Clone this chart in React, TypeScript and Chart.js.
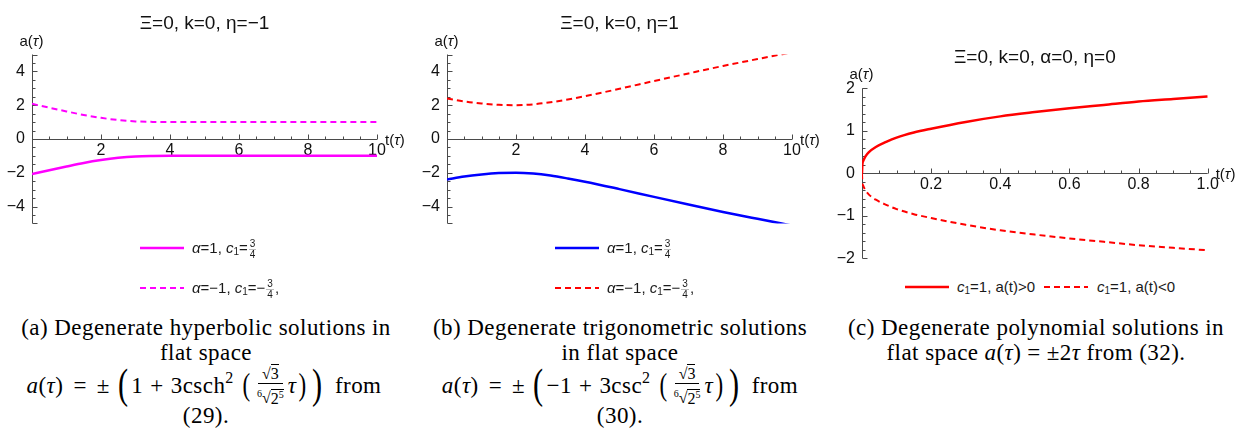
import React, { useEffect, useRef } from 'react';
import { Chart, registerables } from 'chart.js';

Chart.register(...registerables);

// ---------------- data ----------------
// (a) hyperbolic, η = -1
const tHyp = [0, 0.5, 1, 1.5, 2, 2.5, 3, 3.5, 4, 5, 6, 7, 8, 9, 10];
const hypSolid = [-2.08, -1.85, -1.63, -1.42, -1.25, -1.12, -1.04, -1.01, -1.0, -1.0, -1.0, -1.0, -1.0, -1.0, -1.0];
const hypDashed = [2.08, 1.85, 1.63, 1.42, 1.25, 1.12, 1.04, 1.01, 1.0, 1.0, 1.0, 1.0, 1.0, 1.0, 1.0];

// (b) trigonometric, η = 1
const tTrig = [0, 0.5, 1, 1.5, 2, 2.5, 3, 3.5, 4, 5, 6, 7, 8, 9, 10];
const trigSolid = [-2.4, -2.22, -2.1, -2.02, -2.0, -2.05, -2.17, -2.34, -2.53, -2.97, -3.43, -3.88, -4.32, -4.73, -5.13];
const trigDashed = [2.4, 2.22, 2.1, 2.02, 2.0, 2.05, 2.17, 2.34, 2.53, 2.97, 3.43, 3.88, 4.32, 4.73, 5.13];

// (c) polynomial, α = 0, η = 0
const tPoly = [0, 0.001, 0.004, 0.01, 0.02, 0.04, 0.07, 0.1, 0.15, 0.2, 0.3, 0.4, 0.5, 0.6, 0.7, 0.8, 0.9, 1.0];
const polyPos = [0, 0.2, 0.3, 0.4, 0.5, 0.62, 0.74, 0.84, 0.96, 1.05, 1.21, 1.34, 1.44, 1.53, 1.61, 1.69, 1.75, 1.81];
const polyNeg = [0, -0.2, -0.3, -0.4, -0.5, -0.62, -0.74, -0.84, -0.96, -1.05, -1.21, -1.34, -1.44, -1.53, -1.61, -1.69, -1.75, -1.81];

// tick labels
const abXTicks = [2, 4, 6, 8, 10];
const abYTicks = [-4, -2, 0, 2, 4];
const cXTicks = [0.2, 0.4, 0.6, 0.8, 1.0];
const cYTicks = [-2, -1, 0, 1, 2];

const titleA = 'Ξ=0, k=0, η=−1';
const titleB = 'Ξ=0, k=0, η=1';
const titleC = 'Ξ=0, k=0, α=0, η=0';

const MAGENTA = '#ff00ff';
const BLUE = '#0000ff';
const RED = '#ff0000';
const SANS = '"Liberation Sans", Arial, sans-serif';
const SERIF = '"Liberation Serif", "Times New Roman", serif';

function steps(min: number, max: number, step: number) {
  const out: number[] = [];
  const n = Math.round((max - min) / step);
  for (let i = 0; i <= n; i++) out.push(+(min + i * step).toFixed(6));
  return out;
}

function drawRich(ctx: CanvasRenderingContext2D, parts: [string, boolean][], x: number, y: number, align: 'center' | 'left') {
  const fonts = parts.map(([, it]) => (it ? 'italic ' : '') + '15px ' + SANS);
  const widths = parts.map(([s], i) => {
    ctx.font = fonts[i];
    return ctx.measureText(s).width;
  });
  const total = widths.reduce((a, b) => a + b, 0);
  let cx = align === 'center' ? x - total / 2 : x;
  ctx.textBaseline = 'middle';
  ctx.textAlign = 'left';
  parts.forEach(([s], i) => {
    ctx.font = fonts[i];
    ctx.fillText(s, cx, y);
    cx += widths[i];
  });
}

const mmaAxes = {
  id: 'mmaAxes',
  beforeDatasetsDraw(chart: any, _args: any, opts: any) {
    const { ctx, chartArea: ca, scales } = chart;
    const x = scales.x;
    const y = scales.y;
    const x0 = Math.round(x.getPixelForValue(0)) + 0.5;
    const y0 = Math.round(y.getPixelForValue(0)) + 0.5;
    const isMajor = (v: number, list: number[]) => list.some((m) => Math.abs(m - v) < 1e-6);
    ctx.save();
    ctx.strokeStyle = '#4a4a4a';
    ctx.lineWidth = 1;
    ctx.beginPath();
    ctx.moveTo(ca.left, y0);
    ctx.lineTo(ca.right, y0);
    ctx.moveTo(x0, y.getPixelForValue(y.max));
    ctx.lineTo(x0, y.getPixelForValue(y.min));
    for (const v of opts.xMinor as number[]) {
      if (Math.abs(v) < 1e-9) continue;
      const px = Math.round(x.getPixelForValue(v)) + 0.5;
      const len = isMajor(v, opts.xMajor) ? 5 : 3;
      ctx.moveTo(px, y0);
      ctx.lineTo(px, y0 - len);
    }
    for (const v of opts.yMinor as number[]) {
      const py = Math.round(y.getPixelForValue(v)) + 0.5;
      const len = isMajor(v, opts.yMajor) || Math.abs(v - y.max) < 1e-9 || Math.abs(v - y.min) < 1e-9 ? 5 : 3;
      ctx.moveTo(x0, py);
      ctx.lineTo(x0 + len, py);
    }
    ctx.stroke();
    ctx.fillStyle = '#111';
    drawRich(ctx, [['a(', false], ['τ', true], [')', false]], x0 - 1, ca.top - 13, 'center');
    drawRich(ctx, [['t(', false], ['τ', true], [')', false]], ca.right + 8, y0 + 1, 'left');
    ctx.restore();
  },
};

type Series = { t: number[]; v: number[]; color: string; dash: boolean; label: string };
type PanelSpec = {
  title: string;
  series: Series[];
  xMin: number;
  xMax: number;
  yMin: number;
  yMax: number;
  xTicks: number[];
  yTicks: number[];
  xMinorStep: number;
  yMinorStep: number;
  xFmt: (v: number) => string;
  width: number;
  height: number;
  yWidth: number;
  padRight: number;
  padBottom: number;
  titleTop: number;
  titleBottom: number;
};

const fmtSigned = (v: number) => (v < 0 ? '−' + Math.abs(v) : String(v));

function makeConfig(p: PanelSpec): any {
  return {
    type: 'line',
    data: {
      datasets: p.series.map((s) => ({
        label: s.label,
        data: s.t.map((t, i) => ({ x: t, y: s.v[i] })),
        borderColor: s.color,
        backgroundColor: s.color,
        borderWidth: s.dash ? 2 : 2.5,
        borderDash: s.dash ? [6, 4] : [],
        pointRadius: 0,
        cubicInterpolationMode: 'monotone',
        fill: false,
      })),
    },
    options: {
      animation: false,
      responsive: false,
      events: [],
      layout: { padding: { left: 0, right: p.padRight, top: 0, bottom: p.padBottom } },
      plugins: {
        legend: { display: false },
        tooltip: { enabled: false },
        title: {
          display: true,
          text: p.title,
          fullSize: false,
          color: '#111',
          font: { family: SANS, size: 19, weight: 'normal', lineHeight: 1.2 },
          padding: { top: p.titleTop, bottom: p.titleBottom },
        },
        mmaAxes: {
          xMajor: p.xTicks,
          yMajor: p.yTicks,
          xMinor: steps(p.xMin, p.xMax, p.xMinorStep),
          yMinor: steps(p.yMin, p.yMax, p.yMinorStep),
        },
      },
      scales: {
        x: {
          type: 'linear',
          min: p.xMin,
          max: p.xMax,
          position: { y: 0 },
          grid: { display: false, drawTicks: false },
          border: { display: false },
          afterBuildTicks: (s: any) => {
            s.ticks = p.xTicks.map((v) => ({ value: v }));
          },
          ticks: {
            autoSkip: false,
            maxRotation: 0,
            padding: 2,
            color: '#111',
            font: { family: SANS, size: 16 },
            callback: (v: number) => p.xFmt(v),
          },
        },
        y: {
          type: 'linear',
          min: p.yMin,
          max: p.yMax,
          position: 'left',
          grid: { display: false, drawTicks: false },
          border: { display: false },
          afterBuildTicks: (s: any) => {
            s.ticks = p.yTicks.map((v) => ({ value: v }));
          },
          afterFit: (s: any) => {
            s.width = p.yWidth;
          },
          ticks: {
            autoSkip: false,
            padding: 7,
            color: '#111',
            font: { family: SANS, size: 16 },
            callback: (v: number) => fmtSigned(v),
          },
        },
      },
    },
    plugins: [mmaAxes],
  };
}

function ChartCanvas({ spec, left, top }: { spec: PanelSpec; left: number; top: number }) {
  const ref = useRef<HTMLCanvasElement | null>(null);
  useEffect(() => {
    if (!ref.current) return;
    const c = new Chart(ref.current, makeConfig(spec));
    return () => c.destroy();
  }, []);
  return (
    <canvas
      ref={ref}
      width={spec.width}
      height={spec.height}
      style={{ position: 'absolute', left, top, width: spec.width, height: spec.height }}
    />
  );
}

const specA: PanelSpec = {
  title: titleA,
  series: [
    { t: tHyp, v: hypSolid, color: MAGENTA, dash: false, label: 'α=1, c1=3/4' },
    { t: tHyp, v: hypDashed, color: MAGENTA, dash: true, label: 'α=-1, c1=-3/4' },
  ],
  xMin: 0, xMax: 10, yMin: -5, yMax: 5,
  xTicks: abXTicks, yTicks: abYTicks, xMinorStep: 0.5, yMinorStep: 0.5,
  xFmt: (v) => String(v),
  width: 415, height: 240, yWidth: 32, padRight: 38, padBottom: 14, titleTop: 12.6, titleBottom: 19.1,
};

const specB: PanelSpec = {
  ...specA,
  title: titleB,
  series: [
    { t: tTrig, v: trigSolid, color: BLUE, dash: false, label: 'α=1, c1=3/4' },
    { t: tTrig, v: trigDashed, color: RED, dash: true, label: 'α=-1, c1=-3/4' },
  ],
};

const specC: PanelSpec = {
  title: titleC,
  series: [
    { t: tPoly, v: polyPos, color: RED, dash: false, label: 'c1=1, a(t)>0' },
    { t: tPoly, v: polyNeg, color: RED, dash: true, label: 'c1=1, a(t)<0' },
  ],
  xMin: 0, xMax: 1, yMin: -2, yMax: 2,
  xTicks: cXTicks, yTicks: cYTicks, xMinorStep: 0.05, yMinorStep: 0.2,
  xFmt: (v) => v.toFixed(1),
  width: 415, height: 275, yWidth: 32, padRight: 37.3, padBottom: 15, titleTop: 46.6, titleBottom: 18.9,
};

// ---------------- HTML legend & caption helpers ----------------
function Sample({ x, y, color, dashed }: { x: number; y: number; color: string; dashed: boolean }) {
  return (
    <svg style={{ position: 'absolute', left: x, top: y - 3 }} width={44} height={6}>
      <line
        x1={0}
        y1={3}
        x2={44}
        y2={3}
        stroke={color}
        strokeWidth={dashed ? 2 : 2.5}
        strokeDasharray={dashed ? '6 4' : undefined}
      />
    </svg>
  );
}

function SmallFrac({ n, d }: { n: string; d: string }) {
  return (
    <span
      style={{
        display: 'inline-flex',
        flexDirection: 'column',
        alignItems: 'center',
        verticalAlign: 'middle',
        fontSize: 10,
        lineHeight: '10px',
        margin: '0 1px',
      }}
    >
      <span style={{ borderBottom: '1px solid #bbb', padding: '0 1px' }}>{n}</span>
      <span>{d}</span>
    </span>
  );
}

const C1 = () => (
  <span>
    <i>c</i>
    <span style={{ fontSize: 10, verticalAlign: -2 }}>1</span>
  </span>
);

function LegendText({ x, y, children }: { x: number; y: number; children: React.ReactNode }) {
  return (
    <div
      style={{
        position: 'absolute',
        left: x,
        top: y - 12,
        height: 24,
        display: 'flex',
        alignItems: 'center',
        fontFamily: SANS,
        fontSize: 15,
        color: '#1a1a1a',
        whiteSpace: 'nowrap',
      }}
    >
      <span>{children}</span>
    </div>
  );
}

function CapLine({ cx, cy, h = 26, children }: { cx: number; cy: number; h?: number; children: React.ReactNode }) {
  return (
    <div
      style={{
        position: 'absolute',
        left: cx - 250,
        width: 500,
        top: cy - h / 2,
        height: h,
        display: 'flex',
        alignItems: 'center',
        justifyContent: 'center',
        fontFamily: SERIF,
        fontSize: 23,
        letterSpacing: 0.45,
        color: '#000',
        whiteSpace: 'nowrap',
      }}
    >
      <span style={{ display: 'inline-flex', alignItems: 'center' }}>{children}</span>
    </div>
  );
}

const Paren = ({ ch, size }: { ch: string; size: number }) => (
  <span
    style={{
      fontSize: size,
      lineHeight: 1,
      display: 'inline-block',
      transform: 'scaleX(0.72)',
      margin: '0 1px',
      position: 'relative',
      top: -2,
    }}
  >
    {ch}
  </span>
);

const Gap = ({ w }: { w: number }) => <span style={{ display: 'inline-block', width: w }} />;

const Over = ({ children }: { children: React.ReactNode }) => (
  <span style={{ borderTop: '1px solid #000', lineHeight: '15px' }}>{children}</span>
);

const RootFrac = () => (
  <span
    style={{
      display: 'inline-flex',
      flexDirection: 'column',
      alignItems: 'center',
      fontSize: 16,
      lineHeight: '17px',
      margin: '0 4px',
      letterSpacing: 0,
    }}
  >
    <span style={{ borderBottom: '1px solid #000', padding: '0 4px 1px' }}>
      √<Over>3</Over>
    </span>
    <span style={{ paddingTop: 1 }}>
      <sup style={{ fontSize: 10 }}>6</sup>√<Over>
        2<sup style={{ fontSize: 10 }}>5</sup>
      </Over>
    </span>
  </span>
);

function Formula({ inner }: { inner: string }) {
  return (
    <>
      <i>a</i>(<i>τ</i>)
      <Gap w={10} />=<Gap w={10} />±<Gap w={5} />
      <Paren ch="(" size={42} />
      {inner}
      <Gap w={7} />+<Gap w={7} />3{inner === '1' ? 'csch' : 'csc'}
      <sup style={{ fontSize: 16, position: 'relative', top: -8 }}>2</sup>
      <Gap w={6} />
      <Paren ch="(" size={32} />
      <RootFrac />
      <i>τ</i>
      <Paren ch=")" size={32} />
      <Paren ch=")" size={42} />
      <Gap w={9} />from
    </>
  );
}

export default function App() {
  return (
    <div style={{ position: 'fixed', left: 0, top: 0, width: 1245, height: 428, background: '#fff', overflow: 'hidden' }}>
      <ChartCanvas spec={specA} left={0} top={0} />
      <ChartCanvas spec={specB} left={415} top={0} />
      <ChartCanvas spec={specC} left={830} top={0} />

      {/* legend (a) */}
      <Sample x={140} y={248} color={MAGENTA} dashed={false} />
      <LegendText x={192} y={249}>
        <i>α</i>=1, <C1 />=<SmallFrac n="3" d="4" />
      </LegendText>
      <Sample x={140} y={288} color={MAGENTA} dashed={true} />
      <LegendText x={192} y={289}>
        <i>α</i>=−1, <C1 />=−<SmallFrac n="3" d="4" />,
      </LegendText>

      {/* legend (b) */}
      <Sample x={555} y={248} color={BLUE} dashed={false} />
      <LegendText x={607} y={249}>
        <i>α</i>=1, <C1 />=<SmallFrac n="3" d="4" />
      </LegendText>
      <Sample x={555} y={288} color={RED} dashed={true} />
      <LegendText x={607} y={289}>
        <i>α</i>=−1, <C1 />=−<SmallFrac n="3" d="4" />,
      </LegendText>

      {/* legend (c) */}
      <Sample x={905} y={287} color={RED} dashed={false} />
      <LegendText x={957} y={287}>
        <C1 />=1, a(t)&gt;0
      </LegendText>
      <Sample x={1044} y={287} color={RED} dashed={true} />
      <LegendText x={1097} y={287}>
        <C1 />=1, a(t)&lt;0
      </LegendText>

      {/* captions */}
      <CapLine cx={206} cy={328}>(a) Degenerate hyperbolic solutions in</CapLine>
      <CapLine cx={206} cy={353}>flat space</CapLine>
      <CapLine cx={204} cy={386} h={42}>
        <Formula inner="1" />
      </CapLine>
      <CapLine cx={206} cy={416}>(29).</CapLine>

      <CapLine cx={620} cy={328}>(b) Degenerate trigonometric solutions</CapLine>
      <CapLine cx={620} cy={353}>in flat space</CapLine>
      <CapLine cx={620} cy={386} h={42}>
        <Formula inner="−1" />
      </CapLine>
      <CapLine cx={620} cy={416}>(30).</CapLine>

      <CapLine cx={1036} cy={328}>(c) Degenerate polynomial solutions in</CapLine>
      <CapLine cx={1036} cy={353}>
        flat space<Gap w={6} />
        <i>a</i>(<i>τ</i>)<Gap w={6} />=<Gap w={6} />±2<i>τ</i>
        <Gap w={6} />from (32).
      </CapLine>
    </div>
  );
}
